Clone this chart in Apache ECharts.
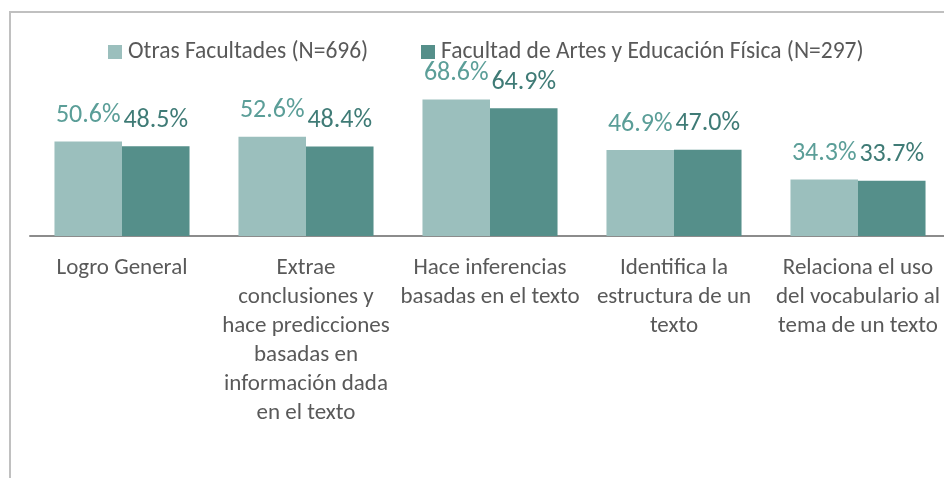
<!DOCTYPE html>
<html>
<head>
<meta charset="utf-8">
<script src="https://cdn.jsdelivr.net/npm/echarts@6/dist/echarts.min.js"></script>
<style>
  html, body { margin: 0; padding: 0; background: #fff; }
  #chart { width: 944px; height: 478px; }
</style>
</head>
<body>
<div id="chart"></div>
<script>
var categories = [
  'Logro General',
  'Extrae\nconclusiones y\nhace predicciones\nbasadas en\ninformación dada\nen el texto',
  'Hace inferencias\nbasadas en el texto',
  'Identifica la\nestructura de un\ntexto',
  'Relaciona el uso\ndel vocabulario al\ntema de un texto'
];
var otrasName = 'Otras Facultades (N=696)';
var artesName = 'Facultad de Artes y Educación Física (N=297)';
var otras = [50.6, 52.6, 68.6, 46.9, 34.3];
var artes = [48.5, 48.4, 64.9, 47.0, 33.7];

var font = 'Carlito, Lato, sans-serif';
var myChart = echarts.init(document.getElementById('chart'));
var option = {
  backgroundColor: '#fff',
  animation: false,
  textStyle: { fontFamily: font },
  graphic: [{
    type: 'rect',
    shape: { x: 10, y: 12, width: 960, height: 500 },
    style: { fill: 'none', stroke: '#C0C0C0', lineWidth: 2 },
    silent: true
  }],
  legend: [{
    data: [otrasName],
    left: 108, top: 40, padding: 0,
    itemWidth: 14, itemHeight: 14, icon: 'rect',
    textStyle: { fontFamily: font, fontSize: 23.5, color: '#595959', padding: [0, 0, 0, 1] }
  }, {
    data: [artesName],
    left: 421, top: 40, padding: 0,
    itemWidth: 14, itemHeight: 14, icon: 'rect',
    textStyle: { fontFamily: font, fontSize: 23.5, color: '#595959', padding: [0, 0, 0, 1] }
  }],
  grid: { left: 30, width: 920, top: 73, bottom: 242, outerBoundsMode: 'none', containLabel: false },
  xAxis: {
    type: 'category',
    data: categories,
    axisLine: { lineStyle: { color: '#8C8C8C', width: 2 } },
    axisTick: { show: false },
    axisLabel: {
      interval: 0, margin: 18, lineHeight: 29,
      fontFamily: font, fontSize: 23, color: '#595959', align: 'center'
    }
  },
  yAxis: {
    type: 'value', min: 10, max: 80,
    show: false, splitLine: { show: false }
  },
  series: [{
    name: otrasName, type: 'bar', data: otras,
    barGap: 0, barCategoryGap: '26.6%',
    itemStyle: { color: '#9BBFBD' },
    label: {
      show: true, position: 'top', distance: 13,
      formatter: function (p) { return p.value.toFixed(1) + '%'; },
      fontFamily: font, fontSize: 26, color: '#5B9E98'
    }
  }, {
    name: artesName, type: 'bar', data: artes,
    barGap: 0, barCategoryGap: '26.6%',
    itemStyle: { color: '#558F8A' },
    label: {
      show: true, position: 'top', distance: 13,
      formatter: function (p) { return p.value.toFixed(1) + '%'; },
      fontFamily: font, fontSize: 26, color: '#3F7B76'
    }
  }]
};
myChart.setOption(option);
</script>
</body>
</html>
